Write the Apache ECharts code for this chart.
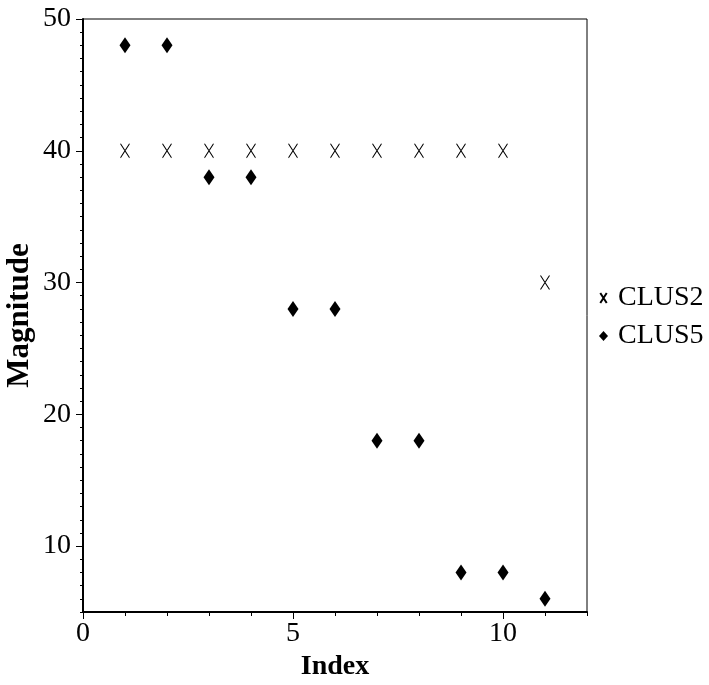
<!DOCTYPE html>
<html>
<head>
<meta charset="utf-8">
<script src="https://cdn.jsdelivr.net/npm/echarts@6/dist/echarts.min.js"></script>
<style>
  html, body { margin: 0; padding: 0; background: #fff; }
  #chart { width: 709px; height: 685px; }
</style>
</head>
<body>
<div id="chart"></div>
<script>
const indices = [1, 2, 3, 4, 5, 6, 7, 8, 9, 10, 11];
const clus2 = [40, 40, 40, 40, 40, 40, 40, 40, 40, 40, 30];
const clus5 = [48, 48, 38, 38, 28, 28, 18, 18, 8, 8, 6];
const yLabels = [10, 20, 30, 40, 50];
const xLabels = [0, 5, 10];

const FONT = "'Liberation Serif', 'Times New Roman', serif";
const crossPath = 'path://M0,0L9,14M9,0L0,14';

const chart = echarts.init(document.getElementById('chart'));

chart.setOption({
  animation: false,
  backgroundColor: '#fff',
  grid: {
    left: 83, right: 122, top: 19, bottom: 73,
    outerBoundsMode: 'none',
    show: true, borderColor: '#000', borderWidth: 1
  },
  legend: {
    orient: 'vertical',
    left: 594, top: 279,
    itemWidth: 9, itemHeight: 10,
    itemGap: 10,
    textStyle: { fontFamily: FONT, fontSize: 28, lineHeight: 28, color: '#000', padding: [0, 0, 0, 5] },
    data: [
      { name: 'CLUS2', icon: crossPath },
      { name: 'CLUS5', icon: 'diamond' }
    ]
  },
  xAxis: [
    {
      type: 'value', min: 0, max: 12, interval: 1,
      name: 'Index', nameLocation: 'middle', nameGap: 38,
      nameTextStyle: { fontFamily: FONT, fontSize: 28, fontWeight: 'bold', color: '#000' },
      axisLine: { show: true, onZero: false, lineStyle: { color: '#000', width: 2 } },
      axisTick: { show: true, length: 4, lineStyle: { color: '#000' } },
      axisLabel: {
        fontFamily: FONT, fontSize: 28, color: '#000', margin: 8,
        formatter: v => (xLabels.includes(v) ? String(v) : '')
      },
      splitLine: { show: false }
    },
    {
      type: 'value', min: 0, max: 12, position: 'bottom',
      axisLine: { show: false },
      axisTick: { show: true, length: 7, customValues: xLabels, lineStyle: { color: '#000' } },
      axisLabel: { show: false },
      splitLine: { show: false }
    }
  ],
  yAxis: [
    {
      type: 'value', min: 5, max: 50,
      name: 'Magnitude', nameLocation: 'middle', nameGap: 48,
      nameMoveOverlap: false,
      nameTextStyle: { fontFamily: FONT, fontSize: 31, fontWeight: 'bold', color: '#000' },
      axisLine: { show: true, onZero: false, lineStyle: { color: '#000', width: 2 } },
      axisTick: { show: true, length: 7, customValues: yLabels, lineStyle: { color: '#000' } },
      axisLabel: { fontFamily: FONT, fontSize: 28, color: '#000', margin: 12, customValues: yLabels },
      splitLine: { show: false }
    },
    {
      type: 'value', min: 5, max: 50, interval: 1, position: 'left',
      axisLine: { show: false },
      axisTick: { show: true, length: 3, lineStyle: { color: '#000' } },
      axisLabel: { show: false },
      splitLine: { show: false }
    }
  ],
  series: [
    {
      name: 'CLUS2', type: 'scatter',
      symbol: crossPath, symbolSize: [9, 14],
      itemStyle: { color: 'rgba(0,0,0,0)', borderColor: '#000', borderWidth: 1, opacity: 1 },
      emphasis: { disabled: true },
      data: indices.map((x, i) => [x, clus2[i]])
    },
    {
      name: 'CLUS5', type: 'scatter',
      symbol: 'diamond', symbolSize: [11, 16],
      itemStyle: { color: '#000', opacity: 1 },
      emphasis: { disabled: true },
      data: indices.map((x, i) => [x, clus5[i]])
    }
  ]
});
</script>
</body>
</html>
